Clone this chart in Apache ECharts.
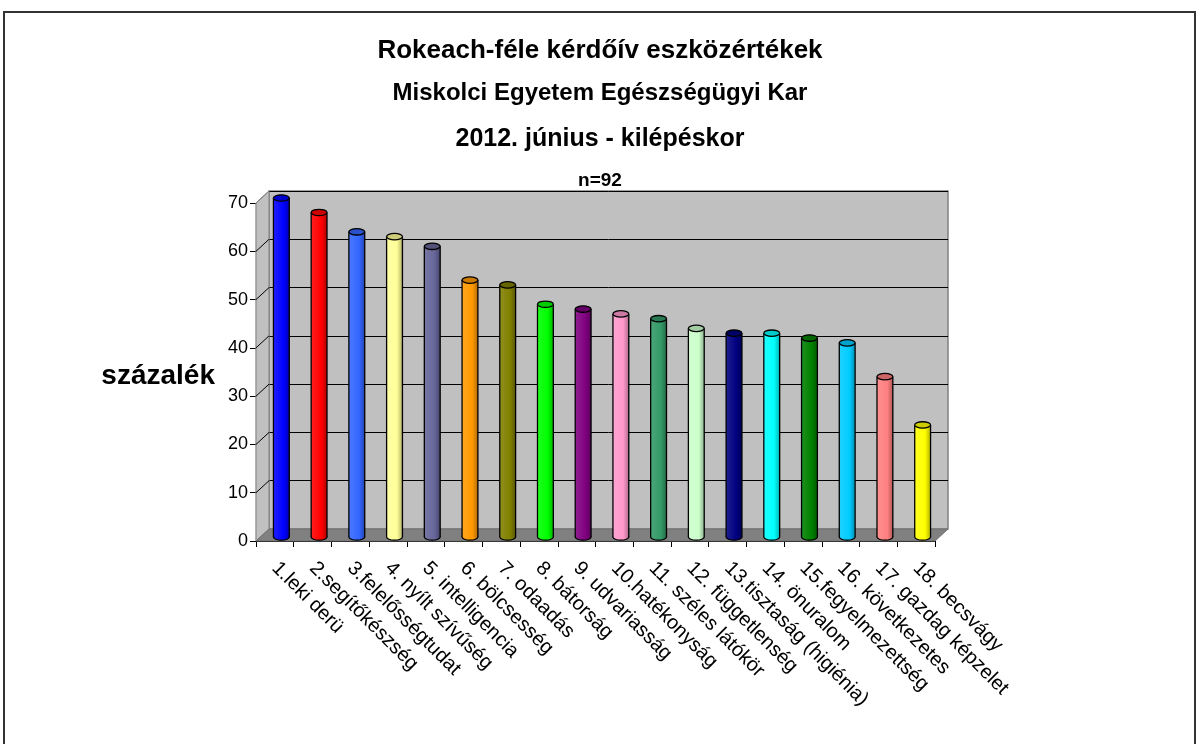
<!DOCTYPE html>
<html>
<head>
<meta charset="utf-8">
<script src="https://cdn.jsdelivr.net/npm/echarts@6/dist/echarts.min.js"></script>
<style>html,body{margin:0;padding:0;background:#fff}#c{width:1200px;height:744px}</style>
</head>
<body>
<div id="c"></div>
<script>
const TITLE_LINES = ['Rokeach-féle kérdőív eszközértékek', 'Miskolci Egyetem Egészségügyi Kar', '2012. június - kilépéskor', 'n=92'];
const Y_NAME = 'százalék';
const CATEGORIES = ['1.leki derü','2.segítőkészség','3.felelősségtudat','4. nyílt szívűség','5. intelligencia','6. bölcsesség','7. odaadás','8. bátorság','9. udvariasság','10.hatékonyság','11. széles látókör','12. függetlenség','13.tisztaság (higiénia)','14. önuralom','15.fegyelmezettség','16. következetes','17. gazdag képzelet','18. becsvágy'];
const VALUES = [70,67,63,62,60,53,52,48,47,46,45,43,42,42,41,40,33,23];
const Y_TICKS = [0,10,20,30,40,50,60,70];
const BAR_COLORS = ['#0000FF','#FF0000','#3366FF','#FFFF99','#666699','#FF9900','#808000','#00FF00','#800080','#FF99CC','#339966','#CCFFCC','#000080','#00FFFF','#008000','#00CCFF','#FF8080','#FFFF00'];

const DEPTH_X = 13, DEPTH_Y = -12;
const FONT = '"Liberation Sans", Arial, sans-serif';

function mix(hex, target, t) {
  const n = parseInt(hex.slice(1), 16);
  const r = (n >> 16) & 255, g = (n >> 8) & 255, b = n & 255;
  const f = c => Math.round(c + (target - c) * t);
  return 'rgb(' + f(r) + ',' + f(g) + ',' + f(b) + ')';
}

const chart = echarts.init(document.getElementById('c'), null, {renderer: 'canvas'});

const yMin = Y_TICKS[0], yMax = Y_TICKS[Y_TICKS.length - 1], yStep = Y_TICKS[1] - Y_TICKS[0];

function renderFrame(params, api) {
  const cw = api.size([1, 0])[0];
  const x0 = api.coord([0, yMin])[0] - cw / 2;
  const x1 = api.coord([CATEGORIES.length - 1, yMin])[0] + cw / 2;
  const yb = api.coord([0, yMin])[1];
  const yt = api.coord([0, yMax])[1];
  const children = [];
  children.push({type: 'polygon', shape: {points: [[x0, yb], [x0, yt], [x0 + DEPTH_X, yt + DEPTH_Y], [x0 + DEPTH_X, yb + DEPTH_Y]]},
    style: {fill: '#c0c0c0', stroke: '#808080', lineWidth: 1}});
  children.push({type: 'polygon', shape: {points: [[x0, yb], [x1, yb], [x1 + DEPTH_X, yb + DEPTH_Y], [x0 + DEPTH_X, yb + DEPTH_Y]]},
    style: {fill: '#808080', stroke: '#707070', lineWidth: 1}});
  Y_TICKS.forEach(v => {
    if (v === yMin) return;
    const y = api.coord([0, v])[1];
    children.push({type: 'line', shape: {x1: x0, y1: y, x2: x0 + DEPTH_X, y2: y + DEPTH_Y},
      style: {stroke: v === yMax ? '#808080' : '#000', lineWidth: 1}});
  });
  return {type: 'group', children: children};
}

function renderBar(params, api) {
  const i = api.value(0), v = api.value(1);
  const top = api.coord([i, v]);
  const base = api.coord([i, 0]);
  const cw = api.size([1, 0])[0];
  const bw = cw * 0.42;
  const rx = bw / 2, ry = 3.2;
  const cx = top[0] + DEPTH_X / 2;
  const ty = top[1] + DEPTH_Y / 2 + 1;
  const by = base[1] + DEPTH_Y / 2 + 2;
  const c = BAR_COLORS[i % BAR_COLORS.length];
  const grad = new echarts.graphic.LinearGradient(0, 0, 1, 0, [
    {offset: 0, color: mix(c, 255, 0.12)},
    {offset: 0.65, color: c},
    {offset: 1, color: mix(c, 0, 0.3)}
  ]);
  return {type: 'group', children: [
    {type: 'ellipse', shape: {cx: cx, cy: by, rx: rx, ry: ry}, style: {fill: grad, stroke: '#000', lineWidth: 1.3}},
    {type: 'rect', shape: {x: cx - rx, y: ty, width: bw, height: by - ty}, style: {fill: grad, lineWidth: 0}},
    {type: 'line', shape: {x1: cx - rx, y1: ty, x2: cx - rx, y2: by}, style: {stroke: '#000', lineWidth: 1.3}},
    {type: 'line', shape: {x1: cx + rx, y1: ty, x2: cx + rx, y2: by}, style: {stroke: '#000', lineWidth: 1.3}},
    {type: 'ellipse', shape: {cx: cx, cy: ty, rx: rx, ry: ry}, style: {fill: mix(c, 0, 0.2), stroke: '#000', lineWidth: 1.3}}
  ]};
}

const option = {
  backgroundColor: '#fff',
  animation: false,
  textStyle: {fontFamily: FONT},
  grid: [
    {left: 256 + DEPTH_X, top: 203 + DEPTH_Y, width: 679, height: 338, show: true, backgroundColor: '#c0c0c0', borderColor: '#808080', borderWidth: 1.5},
    {left: 256, top: 203, width: 679, height: 338}
  ],
  xAxis: [
    {gridIndex: 0, type: 'category', data: CATEGORIES, show: false},
    {gridIndex: 1, type: 'category', data: CATEGORIES,
      axisLine: {lineStyle: {color: '#000', width: 1.2}},
      axisTick: {show: true, length: 6, lineStyle: {color: '#000'}},
      axisLabel: {interval: 0, rotate: -45, margin: 24, fontSize: 20, color: '#000', fontFamily: FONT}}
  ],
  yAxis: [
    {gridIndex: 0, type: 'value', min: yMin, max: yMax, interval: yStep,
      axisLine: {show: false}, axisTick: {show: false}, axisLabel: {show: false},
      splitLine: {lineStyle: {color: '#000', width: 1}}},
    {gridIndex: 1, type: 'value', min: yMin, max: yMax, interval: yStep,
      axisLine: {show: true, lineStyle: {color: '#000', width: 1.2}},
      axisTick: {show: true, length: 6, lineStyle: {color: '#000'}},
      axisLabel: {fontSize: 18, color: '#000', margin: 8, fontFamily: FONT},
      splitLine: {show: false}}
  ],
  series: [
    {type: 'custom', name: 'frame', xAxisIndex: 1, yAxisIndex: 1, data: [[0, 0]], renderItem: renderFrame, silent: true, z: 1},
    {type: 'custom', name: 'values', xAxisIndex: 1, yAxisIndex: 1, data: VALUES.map((v, i) => [i, v]),
      encode: {x: 0, y: 1}, renderItem: renderBar, z: 3}
  ],
  graphic: [
    {type: 'rect', shape: {x: 4, y: 12, width: 1191, height: 780}, style: {fill: 'none', stroke: '#333', lineWidth: 2}, silent: true, z: 10},
    {type: 'text', left: 'center', top: 38, style: {text: TITLE_LINES[0], font: 'bold 26px ' + FONT, fill: '#000'}},
    {type: 'text', left: 'center', top: 81, style: {text: TITLE_LINES[1], font: 'bold 24px ' + FONT, fill: '#000'}},
    {type: 'text', left: 'center', top: 127, style: {text: TITLE_LINES[2], font: 'bold 25px ' + FONT, fill: '#000'}},
    {type: 'text', left: 'center', top: 171, style: {text: TITLE_LINES[3], font: 'bold 19px ' + FONT, fill: '#000'}},
    {type: 'text', x: 215, y: 376, style: {text: Y_NAME, font: 'bold 28px ' + FONT, fill: '#000', align: 'right', verticalAlign: 'middle'}}
  ]
};
chart.setOption(option);
</script>
</body>
</html>
